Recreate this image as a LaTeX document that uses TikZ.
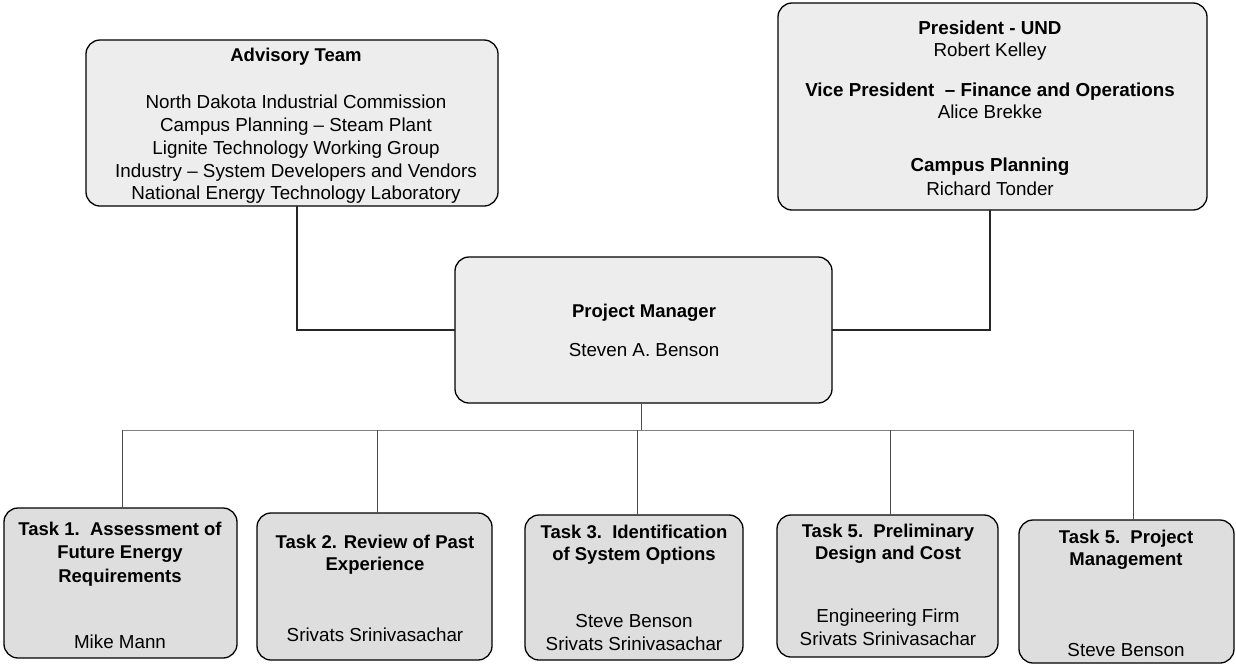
\documentclass[tikz,border=0pt]{standalone}
\usepackage{fontspec}
\setmainfont{Liberation Sans}
\begin{document}
\begin{tikzpicture}[x=1pt,y=-1pt,
  box/.style={draw=black, line width=1.3pt, rounded corners=14pt, inner sep=0pt, outer sep=0pt, fill=black!7},
  taskbox/.style={box, fill=black!13},
  lbl/.style={align=center, inner sep=0pt, font=\fontsize{18.8}{22.8}\selectfont},
  ttl/.style={lbl, font=\fontsize{18.5}{22.5}\selectfont\bfseries},
  conn/.style={line width=1.2pt, black!85},
  busline/.style={line width=0.8pt, black!50},
  dropline/.style={line width=0.9pt, black!70}]
\useasboundingbox (0,0) rectangle (1236,667);

% upper boxes
\node[box, minimum width=412pt, minimum height=166pt] (adv) at (292,123) {};
\node[box, minimum width=429pt, minimum height=207pt] (pres) at (992.5,106.5) {};
\node[box, minimum width=377pt, minimum height=146pt] (pm) at (643.5,330) {};

% task boxes
\node[taskbox, minimum width=233pt, minimum height=150pt] (t1) at (120.5,583) {};
\node[taskbox, minimum width=235pt, minimum height=147pt] (t2) at (374.5,586.5) {};
\node[taskbox, minimum width=218pt, minimum height=145pt] (t3) at (634,587.5) {};
\node[taskbox, minimum width=221pt, minimum height=142pt] (t4) at (887.5,586) {};
\node[taskbox, minimum width=215pt, minimum height=143pt] (t5) at (1126.5,591.5) {};

% advisory team
\node[ttl] (advt) at (296,57) {Advisory Team};
\node[lbl] (advl) at (296,149.5) {North Dakota Industrial Commission\\
  Campus Planning -- Steam Plant\\
  Lignite Technology Working Group\\
  Industry -- System Developers and Vendors\\
  National Energy Technology Laboratory};

% university administration
\node[lbl, font=\fontsize{18.8}{22}\selectfont] (prest) at (990,41) {\textbf{President - UND}\\Robert Kelley};
\node[lbl, font=\fontsize{18.8}{22}\selectfont] (vpt) at (990,101) {\textbf{Vice President \ -- Finance and Operations}\\Alice Brekke};
\node[lbl, font=\fontsize{18.8}{24}\selectfont] (cpt) at (990,177) {\textbf{Campus Planning}\\Richard Tonder};

% project manager
\node[ttl] (pmt) at (644,313) {Project Manager};
\node[lbl] (pmn) at (644,350) {Steven A. Benson};

% tasks
\node[ttl, font=\fontsize{18.5}{23.5}\selectfont\bfseries] (t1t) at (120,554) {Task 1.\ \ Assessment of\\Future Energy\\Requirements};
\node[lbl] (t1n) at (120,642) {Mike Mann};
\node[ttl] (t2t) at (375,554.5) {Task 2. Review of Past\\Experience};
\node[lbl] (t2n) at (375,635) {Srivats Srinivasachar};
\node[ttl] (t3t) at (634,544.5) {Task 3.\ \ Identification\\of System Options};
\node[lbl] (t3n) at (634,632.5) {Steve Benson\\Srivats Srinivasachar};
\node[ttl] (t4t) at (888,543.5) {Task 5.\ \ Preliminary\\Design and Cost};
\node[lbl] (t4n) at (888,627) {Engineering Firm\\Srivats Srinivasachar};
\node[ttl] (t5t) at (1126,549.5) {Task 5.\ \ Project\\Management};
\node[lbl] (t5n) at (1126,650) {Steve Benson};

% upper connectors
\draw[conn] ([xshift=5pt]adv.south) |- (pm.west);
\draw[conn] (pm.east) -| ([xshift=-2.5pt]pres.south);

% task bus
\coordinate (busy) at (0,430);
\coordinate (d1) at ([xshift=1.5pt]t1.north);
\coordinate (d2) at ([xshift=2.5pt]t2.north);
\coordinate (d3) at ([xshift=3pt]t3.north);
\coordinate (d4) at ([xshift=2.5pt]t4.north);
\coordinate (d5) at ([xshift=6.5pt]t5.north);
\coordinate (dm) at ([xshift=-2.5pt]pm.south);
\draw[dropline] (dm) -- (dm |- busy);
\draw[busline] (d1 |- busy) -- (d5 |- busy);
\draw[dropline] (d1) -- (d1 |- busy);
\draw[dropline] (d2) -- (d2 |- busy);
\draw[dropline] (d3) -- (d3 |- busy);
\draw[dropline] (d4) -- (d4 |- busy);
\draw[dropline] (d5) -- (d5 |- busy);
\end{tikzpicture}
\end{document}
